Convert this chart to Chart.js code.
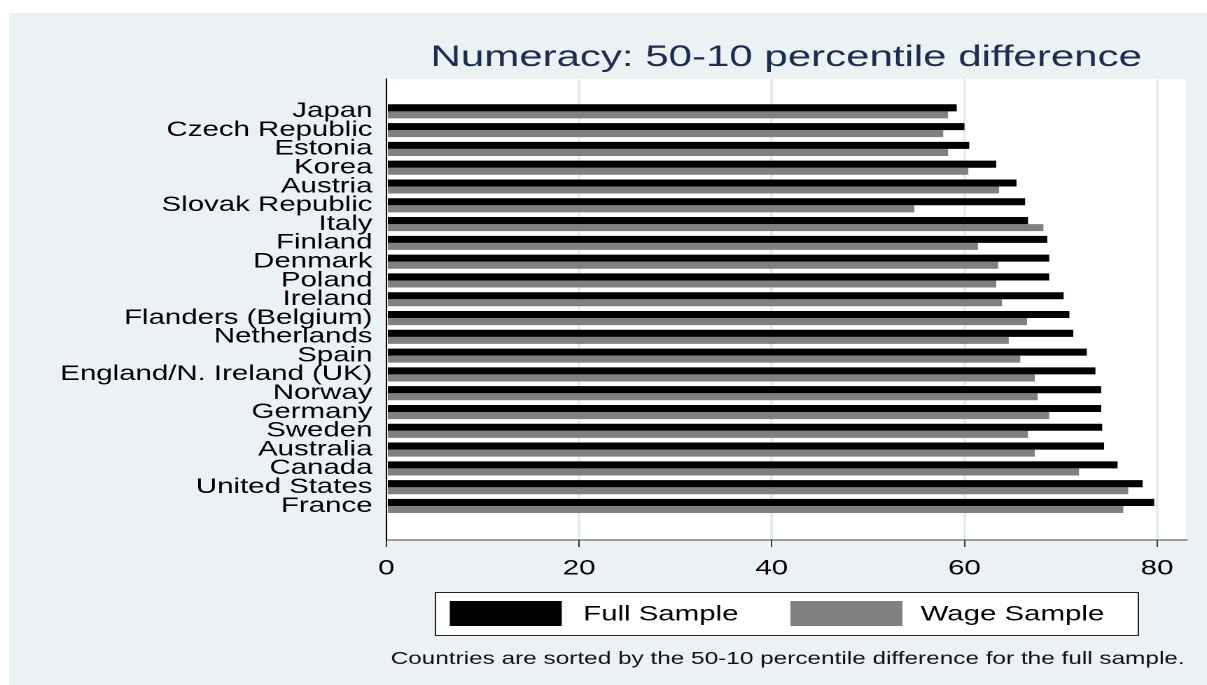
<!DOCTYPE html>
<html>
<head>
<meta charset="utf-8">
<title>Numeracy: 50-10 percentile difference</title>
<script src="https://cdn.jsdelivr.net/npm/chart.js"></script>
<style>
  html, body { margin: 0; padding: 0; background: #fff; overflow: hidden; }
  /* the reference is a stretched Stata export, so the canvas is stretched the same way */
  #wrap { width: 862px; height: 685px; transform: scaleX(1.4002); transform-origin: 0 0; }
</style>
</head>
<body>
<div id="wrap"><canvas id="numeracy-chart" width="862" height="685"></canvas></div>
<script>
var countries = ['Japan', 'Czech Republic', 'Estonia', 'Korea', 'Austria', 'Slovak Republic', 'Italy',
    'Finland', 'Denmark', 'Poland', 'Ireland', 'Flanders (Belgium)', 'Netherlands', 'Spain',
    'England/N. Ireland (UK)', 'Norway', 'Germany', 'Sweden', 'Australia', 'Canada',
    'United States', 'France'];
var fullSample = [59.2, 60.0, 60.5, 63.3, 65.4, 66.3, 66.6, 68.6, 68.8, 68.8, 70.3,
    70.9, 71.3, 72.7, 73.6, 74.2, 74.2, 74.3, 74.5, 75.9, 78.5, 79.7];
var wageSample = [58.3, 57.8, 58.3, 60.4, 63.6, 54.8, 68.2, 61.4, 63.5, 63.3, 63.9,
    66.5, 64.6, 65.8, 67.3, 67.6, 68.8, 66.6, 67.3, 71.9, 77.0, 76.5];
var xTicks = [0, 20, 40, 60, 80];
var seriesNames = ['Full Sample', 'Wage Sample'];
var titleText = 'Numeracy: 50-10 percentile difference';
var noteText = 'Countries are sorted by the 50-10 percentile difference for the full sample.';

var FONT = '"Liberation Sans", Arial, sans-serif';

var toPoints = function (values) {
    return values.map(function (v, i) { return { x: v, y: i }; });
};

// background panel, white plot region, title, legend box and note
var stataFrame = {
    id: 'stataFrame',
    beforeDraw: function (chart) {
        var ctx = chart.ctx, a = chart.chartArea;
        ctx.save();
        ctx.fillStyle = '#ffffff';
        ctx.fillRect(0, 0, chart.width, chart.height);
        ctx.fillStyle = '#eaf2f3';
        ctx.fillRect(6.5, 13, chart.width, chart.height);
        ctx.fillStyle = '#ffffff';
        ctx.fillRect(a.left, a.top, a.right - a.left, a.bottom - a.top);
        ctx.restore();
    },
    afterDraw: function (chart) {
        var ctx = chart.ctx, a = chart.chartArea;
        var cx = (a.left + a.right) / 2;
        ctx.save();
        ctx.textAlign = 'center';
        ctx.textBaseline = 'alphabetic';
        ctx.font = '30px ' + FONT;
        ctx.fillStyle = '#1c2d50';
        ctx.fillText(titleText, cx, 66);

        // legend
        var bx = cx - 251, by = 592;
        ctx.fillStyle = '#ffffff';
        ctx.fillRect(bx, by, 502, 43);
        ctx.strokeStyle = '#222222';
        ctx.lineWidth = 1;
        ctx.strokeRect(bx + 0.5, by + 0.5, 502, 43);
        var items = [{ sw: 10.7, tx: 106 }, { sw: 254, tx: 347 }];
        ctx.font = '21px ' + FONT;
        ctx.textAlign = 'left';
        ctx.textBaseline = 'middle';
        chart.data.datasets.forEach(function (ds, i) {
            ctx.fillStyle = ds.backgroundColor;
            ctx.fillRect(bx + items[i].sw, by + 9, 80, 25);
            ctx.fillStyle = '#000000';
            ctx.fillText(ds.label, bx + items[i].tx, by + 22.5);
        });

        ctx.font = '17.4px ' + FONT;
        ctx.textAlign = 'center';
        ctx.fillStyle = '#111111';
        ctx.fillText(noteText, cx + 1, 659);
        ctx.restore();
    }
};

var ctx = document.getElementById('numeracy-chart');
var myChart = new Chart(ctx, {
    type: 'bar',
    data: {
        datasets: [
            { label: seriesNames[0], data: toPoints(fullSample), backgroundColor: '#000000', borderWidth: 0 },
            { label: seriesNames[1], data: toPoints(wageSample), backgroundColor: '#808080', borderWidth: 0 }
        ]
    },
    options: {
        indexAxis: 'y',
        responsive: false,
        animation: false,
        devicePixelRatio: 2,
        categoryPercentage: 0.75,
        barPercentage: 1,
        layout: { padding: { top: 79, left: 6, right: 15, bottom: 0 } },
        plugins: {
            legend: { display: false },
            title: { display: false },
            tooltip: { enabled: false }
        },
        scales: {
            x: {
                type: 'linear',
                min: 0,
                max: 83,
                afterBuildTicks: function (s) {
                    s.ticks = xTicks.map(function (v) { return { value: v }; });
                },
                afterFit: function (s) { s.height = 145; },
                grid: {
                    color: function (c) { return c.tick && c.tick.value === 0 ? 'rgba(0,0,0,0)' : '#e3ecef'; },
                    lineWidth: 2,
                    tickColor: '#333333',
                    tickLength: 7,
                    tickWidth: 1
                },
                border: { display: true, color: '#444444', width: 1 },
                ticks: { color: '#000000', padding: 9, font: { family: FONT, size: 21 } }
            },
            y: {
                type: 'linear',
                reverse: true,
                offset: false,
                min: -1.72,
                max: 22.81,
                afterBuildTicks: function (s) {
                    s.ticks = countries.map(function (c, i) { return { value: i }; });
                },
                afterFit: function (s) { s.width = 270; },
                grid: { display: false, drawTicks: false },
                border: { display: true, color: '#000000', width: 1 },
                ticks: {
                    autoSkip: false,
                    color: '#000000',
                    padding: 10,
                    font: { family: FONT, size: 21, lineHeight: 1 },
                    callback: function (value) { return countries[value]; }
                }
            }
        }
    },
    plugins: [stataFrame]
});
</script>
</body>
</html>
